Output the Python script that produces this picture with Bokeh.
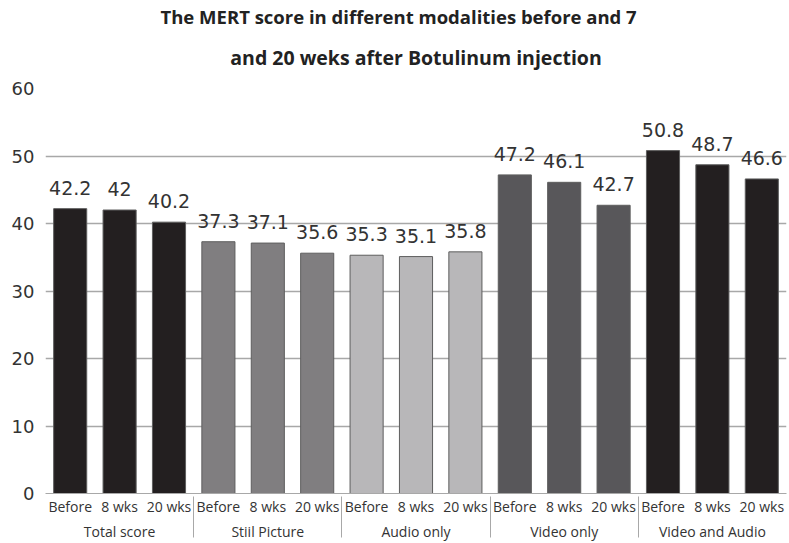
from bokeh.plotting import figure
from bokeh.models import FactorRange, ColumnDataSource, Title, Range1d, FixedTicker
from bokeh.core.properties import value
from bokeh.embed import file_html
from bokeh.resources import INLINE

title_lines = ["The MERT score in different modalities before and 7",
               "and 20 weks after Botulinum injection"]
groups = ["Total score", "Stiil Picture", "Audio only", "Video only", "Video and Audio"]
times = ["Before", "8 wks", "20 wks"]
scores = [
    [42.2, 42.0, 40.2],
    [37.3, 37.1, 35.6],
    [35.3, 35.1, 35.8],
    [47.2, 46.1, 42.7],
    [50.8, 48.7, 46.6],
]
labels = [
    ["42.2", "42", "40.2"],
    ["37.3", "37.1", "35.6"],
    ["35.3", "35.1", "35.8"],
    ["47.2", "46.1", "42.7"],
    ["50.8", "48.7", "46.6"],
]
group_colors = ["#231f20", "#807e80", "#b8b7b9", "#58575a", "#231f20"]
y_ticks = [0, 10, 20, 30, 40, 50, 60]

xs, ys, cols, txt = [], [], [], []
for g, vals, labs, c in zip(groups, scores, labels, group_colors):
    for t, v, l in zip(times, vals, labs):
        xs.append((g, t))
        ys.append(v)
        cols.append(c)
        txt.append(l)

src = ColumnDataSource(dict(x=xs, y=ys, c=cols, t=txt))

p = figure(width=789, height=543,
           x_range=FactorRange(*xs, range_padding=0, factor_padding=0, subgroup_padding=0, group_padding=0),
           y_range=Range1d(0, 60), output_backend="svg", toolbar_location=None,
           min_border_left=45, min_border_right=3, min_border_top=88, min_border_bottom=0)

p.vbar(x="x", top="y", width=0.67, source=src, fill_color="c", line_color="#5e5e5e", line_width=1)
p.text(x="x", y="y", text="t", source=src, text_align="center", text_baseline="bottom",
       y_offset=-14, text_font=value("DejaVu Sans"), text_font_size="19px", text_color="#333333")

p.outline_line_color = None
p.background_fill_color = "white"
p.xgrid.grid_line_color = None
p.ygrid.grid_line_color = "#a8a8a8"
p.ygrid.grid_line_width = 1.5
p.yaxis.ticker = FixedTicker(ticks=y_ticks)
p.yaxis.axis_line_color = None
p.yaxis.major_tick_line_color = None
p.yaxis.minor_tick_line_color = None
p.yaxis.major_tick_out = 0
p.yaxis.major_label_text_font = "DejaVu Sans"
p.yaxis.major_label_text_font_size = "18px"
p.yaxis.major_label_text_color = "#333333"
p.yaxis.major_label_standoff = 11

p.xaxis.axis_line_color = "#a8a8a8"
p.xaxis.major_tick_line_color = None
p.xaxis.major_tick_out = 0
p.xaxis.major_label_text_font = "Open Sans"
p.xaxis.major_label_text_font_size = "14px"
p.xaxis.major_label_text_color = "#333333"
p.xaxis.major_label_standoff = 3
p.xaxis.group_text_font = "Open Sans"
p.xaxis.group_text_font_size = "14px"
p.xaxis.group_text_font_style = "normal"
p.xaxis.group_text_color = "#333333"
p.xaxis.separator_line_color = "#a8a8a8"
p.xaxis.separator_line_width = 1

p.add_layout(Title(text=title_lines[1], align="center",
                   text_font="Open Sans", text_font_size="19.5px", text_font_style="bold",
                   text_color="#222222", standoff=36), "above")
p.add_layout(Title(text=title_lines[0], align="left",
                   text_font="Open Sans", text_font_size="18.5px", text_font_style="bold",
                   text_color="#222222", standoff=-11, offset=115), "above")

open("out.html", "w").write(file_html(p, INLINE))
